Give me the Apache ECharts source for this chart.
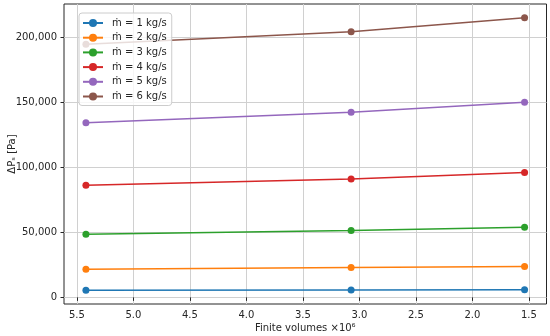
<!DOCTYPE html>
<html>
<head>
<meta charset="utf-8">
<script src="https://cdn.jsdelivr.net/npm/echarts@6/dist/echarts.min.js"></script>
<style>html,body{margin:0;padding:0;background:#fff}#c{width:550px;height:336px}</style>
</head>
<body>
<div id="c"></div>
<script>
const finiteVolumes = [5.42, 3.073, 1.538];
const seriesNames = ['ṁ = 1 kg/s', 'ṁ = 2 kg/s', 'ṁ = 3 kg/s', 'ṁ = 4 kg/s', 'ṁ = 5 kg/s', 'ṁ = 6 kg/s'];
const m1 = [5400, 5600, 5900];
const m2 = [21700, 23000, 23800];
const m3 = [48500, 51400, 53900];
const m4 = [86100, 91000, 95900];
const m5 = [134200, 142300, 150000];
const m6 = [194500, 204200, 215000];
const xTicks = [1.5, 2.0, 2.5, 3.0, 3.5, 4.0, 4.5, 5.0, 5.5];
const yTicks = [0, 50000, 100000, 150000, 200000];
const colors = ['#1f77b4', '#ff7f0e', '#2ca02c', '#d62728', '#9467bd', '#8c564b'];

const allSeries = [m1, m2, m3, m4, m5, m6];
const allY = allSeries.flat();
const yLo = Math.min(...allY), yHi = Math.max(...allY);
const yPad = (yHi - yLo) * 0.05;
const xLo = Math.min(...finiteVolumes), xHi = Math.max(...finiteVolumes);
const xPad = (xHi - xLo) * 0.05;

const font = 'DejaVu Sans';
const chart = echarts.init(document.getElementById('c'), null, {renderer: 'canvas'});
chart.setOption({
  animation: false,
  color: colors,
  grid: {left: 64, right: 3.5, top: 4, bottom: 32, show: true, borderColor: '#262626', borderWidth: 1, backgroundColor: 'transparent', containLabel: false, outerBoundsMode: 'none'},
  legend: {
    left: 79, top: 13, orient: 'vertical',
    padding: [5, 5, 4, 3], itemGap: 4.7, itemWidth: 20, itemHeight: 10,
    backgroundColor: 'rgba(255,255,255,0.8)', borderColor: '#cccccc', borderWidth: 1, borderRadius: 3,
    textStyle: {fontFamily: font, fontSize: 10, color: '#262626', padding: [0, 0, 0, 4]},
    data: seriesNames
  },
  xAxis: {
    type: 'value', inverse: true,
    min: xLo - xPad, max: xHi + xPad,
    name: 'Finite volumes ×10⁶', nameLocation: 'middle', nameGap: 19, nameMoveOverlap: false,
    nameTextStyle: {fontFamily: font, fontSize: 10, color: '#262626', verticalAlign: 'top'},
    axisLine: {show: false},
    axisTick: {show: true, inside: false, length: 3.5, lineStyle: {color: '#262626', width: 1}, customValues: xTicks},
    axisLabel: {fontFamily: font, fontSize: 10, color: '#262626', margin: 6, customValues: xTicks,
      formatter: v => v.toFixed(1)},
    splitLine: {show: true, lineStyle: {color: '#d0d0d0', width: 1}}
  },
  yAxis: {
    type: 'value',
    min: yLo - yPad, max: yHi + yPad,
    name: 'ΔPₛ [Pa]', nameLocation: 'middle', nameGap: 47, nameMoveOverlap: false,
    nameTextStyle: {fontFamily: font, fontSize: 10, color: '#262626'},
    axisLine: {show: false},
    axisTick: {show: true, inside: false, length: 3.5, lineStyle: {color: '#262626', width: 1}, customValues: yTicks},
    axisLabel: {fontFamily: font, fontSize: 10, color: '#262626', margin: 7, customValues: yTicks,
      formatter: v => Math.round(v).toLocaleString('en-US')},
    splitLine: {show: true, lineStyle: {color: '#d0d0d0', width: 1}}
  },
  series: allSeries.map((vals, i) => ({
    name: seriesNames[i], type: 'line',
    data: finiteVolumes.map((x, j) => [x, vals[j]]),
    symbol: 'circle', symbolSize: 7, showSymbol: true,
    lineStyle: {width: 1.5, color: colors[i]},
    itemStyle: {color: colors[i]},
    emphasis: {disabled: true}
  }))
});
</script>
</body>
</html>
